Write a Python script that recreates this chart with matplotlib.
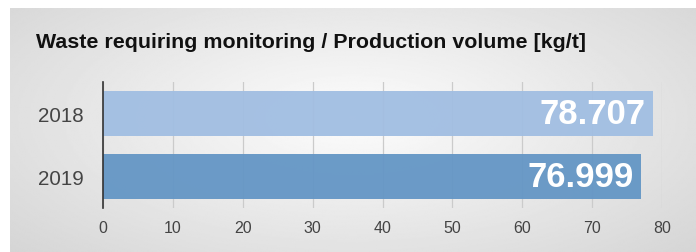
import matplotlib
matplotlib.use("Agg")
import matplotlib.pyplot as plt
import numpy as np

plt.rcParams['font.family'] = ['Liberation Sans', 'DejaVu Sans']

# data
years = ['2018', '2019']
values = [78.707, 76.999]
labels = ['78.707', '76.999']
bar_colors = ['#a1bee2', '#6496c5']
x_ticks = [0, 10, 20, 30, 40, 50, 60, 70, 80]
title = 'Waste requiring monitoring / Production volume [kg/t]'

W, H = 696, 253
fig = plt.figure(figsize=(W / 100, H / 100), dpi=100)
fig.patch.set_facecolor('white')

# gray radial gradient panel behind everything
bg = fig.add_axes([10 / W, 0 / H, (W - 10) / W, (H - 9) / H])
yy, xx = np.mgrid[0:1:200j, 0:1:400j]
r = np.sqrt(((xx - 0.5) / 0.75) ** 2 + ((yy - 0.45) / 0.9) ** 2)
shade = np.clip(0.99 - 0.17 * r, 0, 1)
bg.imshow(shade, cmap='gray', vmin=0, vmax=1, aspect='auto',
          extent=[0, 1, 0, 1], interpolation='bilinear')
bg.set_axis_off()

fig.text(36 / W, 1 - 48 / H, title, fontsize=15.4, fontweight='bold',
         color='#111111', va='baseline', ha='left')

ax = fig.add_axes([103 / W, 1 - 209 / H, (662 - 103) / W, (209 - 83) / H])
ax.patch.set_alpha(0)
pos = [1, 0]
ax.barh(pos, values, height=0.7, color=bar_colors, alpha=0.95, zorder=2)
for p, v, lab in zip(pos, values, labels):
    ax.text(v - 1.1, p, lab, ha='right', va='center', color='white',
            fontsize=25, fontweight='bold', zorder=3)

ax.set_xlim(0, 80)
ax.set_ylim(-0.5, 1.5)
ax.set_xticks(x_ticks)
ax.set_yticks(pos)
ax.set_yticklabels(years)
ax.grid(axis='x', color='#cbcbcb', linewidth=0.9, zorder=1)
ax.set_axisbelow(True)
for s in ['top', 'right', 'bottom']:
    ax.spines[s].set_visible(False)
ax.spines['left'].set_color('#333333')
ax.spines['left'].set_linewidth(1.2)
ax.tick_params(axis='x', length=0, pad=9, labelsize=11.5, labelcolor='#444444')
ax.tick_params(axis='y', length=0, pad=14, labelsize=14.8, labelcolor='#444444')

fig.savefig('out.png', dpi=100)
